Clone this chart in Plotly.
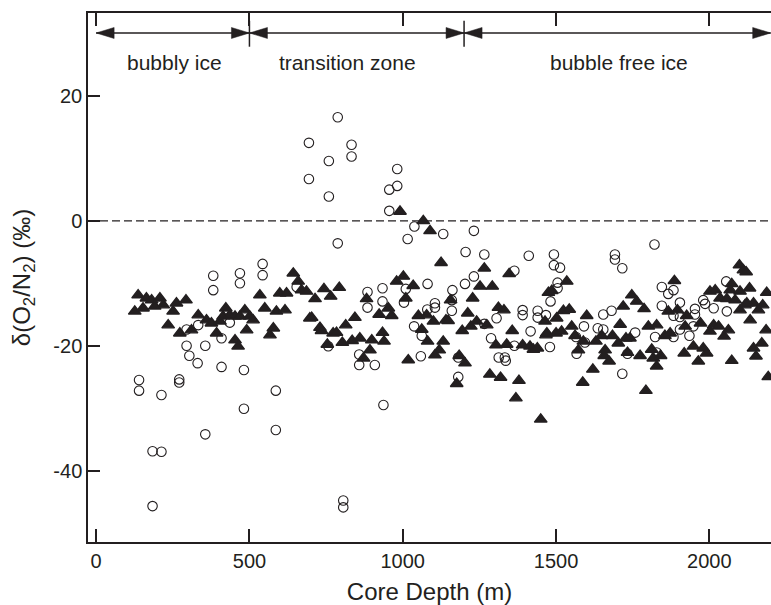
import plotly.graph_objects as go

# ---- data ----
tri_depth = [137,126,153,164,181,208,191,219,235,251,262,293,273,311,333,360,376,393,404,423,414,436,453,469,485,501,512,491,453,463,550,534,588,616,578,567,599,621,643,659,670,697,
             686,714,743,765,793,703,730,735,773,784,814,844,754,803,835,860,899,934,939,893,872,882,923,953,964,980,1002,1010,1034,1018,1051,1078,1062,1081,1100,1132,1119,1105,1141,1156,1148,1194,1212,1222,1228,1252,1292,1241,1274,1312,1330,1357,1304,1339,1391,1415,1426,1439,1467,1475,1184,1203,1176,1284,1319,1379,1369,1450,
             991,1067,1089,1125,1266,1347,
             1535,1486,1524,1543,1502,1464,1470,1500,1518,1551,1562,1600,1589,1573,1620,1587,1630,1649,1660,1657,1673,1684,1703,1709,1719,1733,1728,1747,1763,1787,1741,1774,1793,1801,1812,1817,1828,1841,1828,1855,1872,1886,1866,1896,1918,1921,1926,1948,1964,1980,1991,1971,2002,2014,2030,2048,2062,2073,2002,2019,2035,2057,2073,2068,2098,2111,2120,2100,2084,2131,2144,2160,2100,2116,2122,2187,2174,2133,2185,2171,2144,2152,2192]
tri_d = [-11.9,-14.5,-14.0,-12.4,-12.7,-12.4,-13.7,-13.5,-16.7,-14.5,-13.2,-12.7,-18.0,-17.5,-15.1,-15.9,-16.4,-18.0,-16.1,-14.0,-15.3,-15.1,-15.3,-15.3,-14.3,-15.3,-15.9,-17.5,-19.1,-20.1,-14.0,-11.9,-14.5,-14.3,-17.2,-18.3,-11.6,-11.6,-8.4,-9.7,-11.1,-15.6,
         -11.3,-12.5,-10.9,-12.1,-10.7,-15.5,-17.1,-17.6,-18.0,-17.9,-16.7,-15.5,-19.8,-19.5,-19.2,-18.8,-19.1,-17.9,-19.3,-20.7,-22.0,-12.5,-15.0,-14.0,-15.2,-9.7,-8.9,-12.4,-10.4,-22.3,-15.2,-15.1,-17.4,-19.3,-16.1,-19.3,-20.7,-21.5,-15.9,-12.7,-16.0,-17.6,-14.8,-16.9,-12.4,-10.5,-10.5,-16.1,-16.7,-13.9,-14.3,-17.6,-19.9,-19.8,-19.9,-20.1,-20.6,-20.4,-18.3,-11.5,-21.6,-22.8,-26.1,-24.6,-25.1,-25.6,-28.4,-31.8,
         1.5,0.0,-1.6,-6.7,-7.6,-8.5,
         -9.7,-11.2,-14.4,-14.2,-15.6,-16.1,-18.0,-18.0,-17.7,-16.9,-18.4,-15.2,-19.3,-20.7,-23.8,-25.9,-19.3,-18.4,-20.7,-21.6,-22.5,-18.4,-19.6,-16.6,-13.7,-21.1,-18.8,-11.9,-12.9,-14.1,-18.8,-21.6,-27.2,-16.9,-20.6,-22.0,-23.3,-21.6,-16.7,-18.4,-18.0,-9.6,-14.5,-14.3,-21.2,-16.9,-15.2,-20.1,-22.5,-20.4,-21.2,-16.4,-17.7,-16.7,-16.9,-18.5,-17.5,-22.4,-11.3,-11.1,-12.4,-12.5,-10.1,-11.1,-7.1,-7.9,-8.2,-11.3,-12.7,-10.8,-13.2,-14.3,-14.3,-13.5,-13.2,-11.5,-13.5,-15.9,-17.5,-19.6,-20.4,-21.7,-25.0]

circ_depth = [382,382,469,469,543,543,654,295,333,295,304,331,356,409,409,436,482,140,140,213,271,271,586,482,356,586,184,213,184,
              788,694,759,833,833,694,759,982,982,956,956,788,1038,1016,1132,1232,1205,1266,1411,1364,1232,
              1203,1162,1081,934,885,934,885,1004,1010,1105,1105,1080,1160,1160,1037,1062,1059,858,858,909,757,937,806,806,1181,1181,1306,1288,1313,1333,1336,1364,1391,1391,1417,1440,1440,1467,1482,1480,1266,
              1821,1493,1493,1513,1692,1692,1716,1505,1505,1591,1565,1567,1654,1681,1636,1654,1594,1758,1733,1716,1823,1828,1845,1866,1883,1845,1904,1883,1904,1883,1904,1935,1948,1953,1953,1980,1986,2014,2057,2055]
circ_d = [-8.8,-11.1,-8.4,-10.0,-6.9,-8.7,-10.6,-17.4,-16.7,-20.0,-21.6,-22.8,-20.0,-23.4,-18.8,-16.3,-23.9,-25.5,-27.2,-27.9,-25.4,-25.9,-27.2,-30.1,-34.2,-33.5,-36.9,-37.0,-45.7,
          16.6,12.5,9.6,12.2,10.3,6.7,3.9,8.3,5.6,5.0,1.6,-3.6,-0.9,-2.9,-2.1,-1.6,-5.0,-5.4,-5.6,-8.0,-8.9,
          -10.1,-11.1,-10.1,-10.8,-11.4,-12.9,-13.9,-13.1,-10.9,-13.2,-13.9,-14.2,-12.7,-14.4,-16.9,-18.4,-21.7,-21.4,-23.1,-23.1,-20.1,-29.5,-44.8,-45.9,-21.9,-25.0,-15.6,-18.8,-21.9,-21.9,-22.4,-20.0,-14.3,-15.1,-17.7,-14.4,-15.5,-15.1,-12.9,-20.2,-16.5,
          -3.8,-5.4,-7.1,-7.5,-5.4,-6.2,-7.6,-9.9,-10.8,-16.9,-18.6,-21.3,-15.0,-14.4,-17.2,-17.4,-19.5,-17.9,-21.3,-24.5,-18.6,-21.1,-10.6,-11.7,-11.1,-13.6,-13.1,-15.2,-15.4,-18.6,-17.4,-18.4,-16.9,-14.1,-15.0,-12.7,-13.3,-14.0,-14.5,-9.7]

zone_bounds = [0, 500, 1200, 2200]
zone_labels = ["bubbly ice", "transition zone", "bubble free ice"]
zone_label_x = [255, 820, 1706]

x_ticks = [0, 500, 1000, 1500, 2000]
x_ticktext = ["0", "500", "1000", "1500", "2000"]
y_ticks = [-40, -20, 0, 20]
y_ticktext = ["-40", "-20", "0", "20"]
X_RANGE = [-26.5, 2201]
Y_RANGE = [-51.45, 33.3]

INK = "#231f20"
FONT = "Liberation Sans, Arial, Helvetica, sans-serif"

fig = go.Figure()
fig.add_trace(go.Scatter(x=tri_depth, y=tri_d, mode="markers",
                         marker=dict(symbol="triangle-up", size=11, color=INK,
                                     line=dict(color=INK, width=1.4)),
                         showlegend=False, cliponaxis=False, hoverinfo="skip"))
fig.add_trace(go.Scatter(x=circ_depth, y=circ_d, mode="markers",
                         marker=dict(symbol="circle-open", size=9.5, color=INK,
                                     line=dict(color=INK, width=1.1)),
                         showlegend=False, cliponaxis=False, hoverinfo="skip"))

# zero dashed line
fig.add_shape(type="line", xref="paper", yref="y", x0=0, x1=1, y0=0, y1=0,
              line=dict(color=INK, width=1.3, dash="8px,4px"))

# zone arrows
arrow_y = 30.1
px_per_x = 0.3065
px_per_y = 6.24
head_len = 18 / px_per_x
head_half = 5.5 / px_per_y
for i in range(len(zone_bounds) - 1):
    a, b = zone_bounds[i], zone_bounds[i + 1]
    fig.add_shape(type="line", xref="x", yref="y", x0=a, x1=b, y0=arrow_y, y1=arrow_y,
                  line=dict(color=INK, width=1.5))
    fig.add_shape(type="path", xref="x", yref="y",
                  path=f"M {a},{arrow_y} L {a+head_len},{arrow_y+head_half} L {a+head_len},{arrow_y-head_half} Z",
                  fillcolor=INK, line=dict(color=INK, width=0.5))
    fig.add_shape(type="path", xref="x", yref="y",
                  path=f"M {b},{arrow_y} L {b-head_len},{arrow_y+head_half} L {b-head_len},{arrow_y-head_half} Z",
                  fillcolor=INK, line=dict(color=INK, width=0.5))
    fig.add_annotation(x=zone_label_x[i], y=25.3, xref="x", yref="y", text=zone_labels[i],
                       showarrow=False, font=dict(size=21, color=INK, family=FONT))
for bnd in zone_bounds[1:-1]:
    fig.add_shape(type="line", xref="x", yref="y", x0=bnd, x1=bnd, y0=27.9, y1=32.05,
                  line=dict(color=INK, width=1.5))

fig.update_layout(
    width=771, height=605,
    margin=dict(l=88, r=0, t=13, b=63, autoexpand=False),
    paper_bgcolor="white", plot_bgcolor="white",
    font=dict(family=FONT, color=INK, size=20),
    xaxis=dict(range=X_RANGE, tickvals=x_ticks, ticktext=x_ticktext, ticks="inside", ticklen=13, tickwidth=1.5,
               tickcolor=INK, showline=True, linecolor=INK, linewidth=1.5, mirror="ticks",
               showgrid=False, zeroline=False, tickfont=dict(size=20),
               title=dict(text="Core Depth (m)", font=dict(size=24), standoff=12)),
    yaxis=dict(range=Y_RANGE, tickvals=y_ticks, ticktext=y_ticktext, ticks="inside", ticklen=12, tickwidth=1.5,
               tickcolor=INK, showline=True, linecolor=INK, linewidth=1.5, mirror=False,
               showgrid=False, zeroline=False, tickfont=dict(size=20),
               title=dict(text="δ(O<sub>2</sub>/N<sub>2</sub>) (‰)", font=dict(size=24), standoff=16)),
    yaxis2=dict(range=Y_RANGE, tickvals=y_ticks, overlaying="y", side="right", anchor="x",
                ticks="inside", ticklen=6, tickwidth=1.5, tickcolor=INK,
                showticklabels=False, showline=False, showgrid=False, zeroline=False),
)

fig.write_html("out.html", config={"displayModeBar": False},
               post_script="document.body.style.margin='0';document.body.style.overflow='hidden';")
